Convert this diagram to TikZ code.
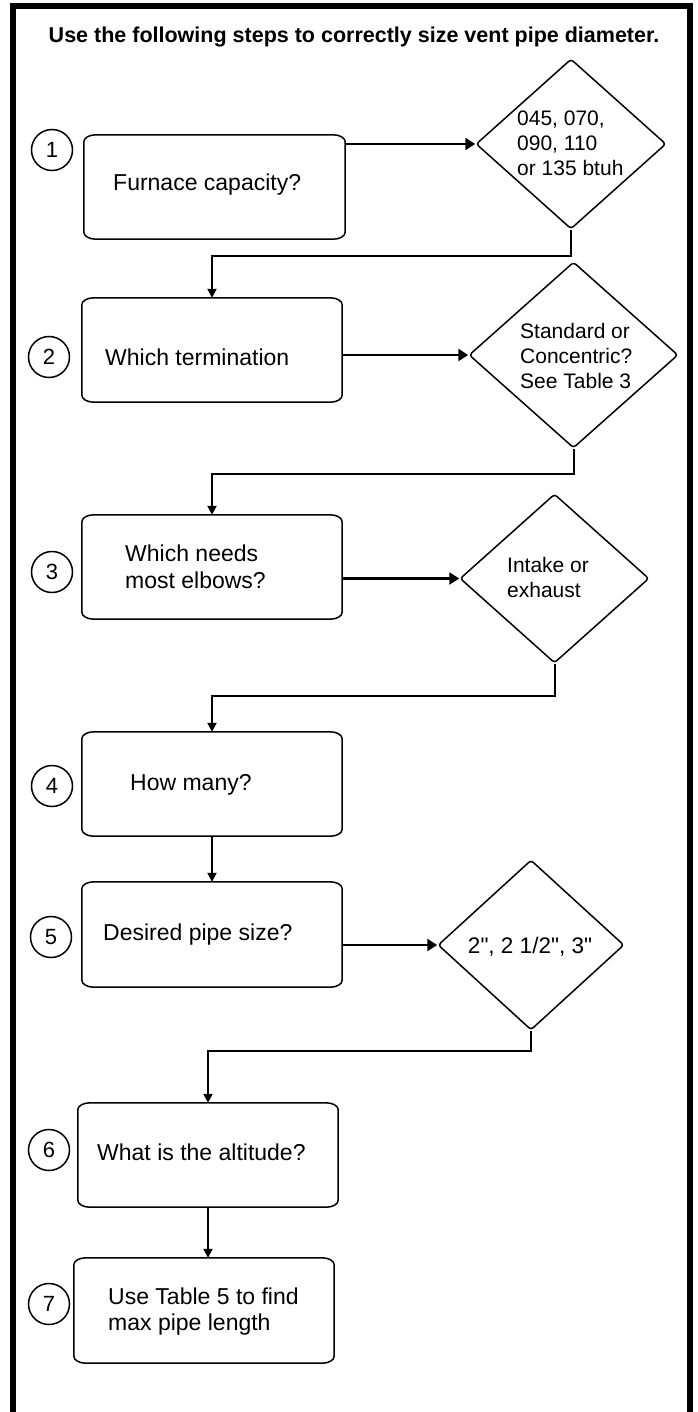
\documentclass[tikz,border=0pt]{standalone}
\usepackage{fontspec}
\setmainfont{Liberation Sans}
\newfontfamily\plainsans{Liberation Sans}
\usetikzlibrary{arrows.meta,shapes.geometric}
\begin{document}
\begin{tikzpicture}[x=1pt,y=-1pt,
  stepbox/.style={rectangle, minimum width=260pt, minimum height=104pt, inner sep=0pt},
  boxline/.style={line width=1.5pt},
  dia/.style={diamond, draw, line width=1.5pt, inner sep=0pt, rounded corners=3pt},
  num/.style={circle, draw, line width=1.5pt, minimum size=41pt, inner sep=0pt, font=\fontsize{22}{22}\selectfont},
  btext/.style={anchor=west, inner sep=0pt, align=left, font=\fontsize{23}{26.5}\selectfont},
  dtext/.style={anchor=west, inner sep=0pt, align=left, font=\fontsize{21}{25}\selectfont},
  conn/.style={line width=2pt, -{Triangle[length=9pt,width=9pt]}},
  harrow/.style={line width=2.5pt, -{Triangle[length=10pt,width=12pt]}},
  frame/.style={line width=6pt, line join=miter}
]
\useasboundingbox (0,0) rectangle (697,1412);
\fill[white] (0,0) rectangle (697,1412);
\draw[frame] (12.5,1412) -- (12.5,6) -- (690,6) -- (690,1412);

\node[font=\bfseries\fontsize{21.5}{24}\selectfont, inner sep=0pt] (title) at (354,37) {Use the following steps to correctly size vent pipe diameter.};

% step boxes
\node[stepbox, minimum width=261pt] (b1) at (214.5,187) {};
\node[stepbox] (b2) at (212,350) {};
\node[stepbox] (b3) at (212,567) {};
\node[stepbox] (b4) at (212,784) {};
\node[stepbox, minimum height=105pt] (b5) at (212,934.5) {};
\node[stepbox] (b6) at (208,1155) {};
\node[stepbox, minimum height=105pt] (b7) at (204,1310.5) {};
\foreach \i in {1,...,7}{
  \draw[boxline] ([xshift=12pt]b\i.north west) -- ([xshift=-12pt]b\i.north east)
    arc[start angle=90, end angle=0, x radius=12pt, y radius=7pt]
    -- ([yshift=7pt]b\i.south east)
    arc[start angle=0, end angle=-90, x radius=12pt, y radius=7pt]
    -- ([xshift=12pt]b\i.south west)
    arc[start angle=270, end angle=180, x radius=12pt, y radius=7pt]
    -- ([yshift=-7pt]b\i.north west)
    arc[start angle=180, end angle=90, x radius=12pt, y radius=7pt] -- cycle;
}

% box texts
\node[btext] (t1) at (113,185) {Furnace capacity?};
\node[btext] (t2) at (105,357) {Which termination};
\node[btext] (t3) at (125,567) {Which needs\\most elbows?};
\node[btext] (t4) at (130,785) {How many?};
\node[btext] (t5) at (103,935) {Desired pipe size?};
\node[btext] (t6) at (97,1152) {What is the altitude?};
\node[btext] (t7) at (108,1311.5) {Use Table 5 to find\\max pipe length};

% number circles
\node[num] (n1) at (52,150) {1};
\node[num] (n2) at (49,357) {2};
\node[num] (n3) at (52,572) {3};
\node[num] (n4) at (52,786) {4};
\node[num] (n5) at (51,937) {5};
\node[num] (n6) at (49,1150) {6};
\node[num] (n7) at (49,1304) {7};

% diamonds
\node[dia, minimum width=190pt, minimum height=170pt] (d1) at (571,144) {};
\node[dia, minimum width=209pt, minimum height=186pt] (d2) at (573.5,355) {};
\node[dia, minimum width=189pt, minimum height=169pt] (d3) at (554.5,578.5) {};
\node[dia, minimum width=186pt, minimum height=170pt] (d4) at (531,945) {};

\node[dtext] (e1) at (517,143) {045, 070,\\090, 110\\or 135 btuh};
\node[dtext] (e2) at (520,356) {Standard or\\Concentric?\\See Table 3};
\node[dtext] (e3) at (507,577.5) {Intake or\\exhaust};
\node[dtext, anchor=center, font=\plainsans\fontsize{22.5}{25}\selectfont] (e4) at (530,947) {2", 2 1/2", 3"};

% connectors
\draw[harrow] (b1.east |- d1.west) -- (d1.west);
\draw[harrow] (b2.east |- d2.west) -- (d2.west);
\draw[harrow] (b3.east |- d3.west) -- (d3.west);
\draw[harrow] (b5.east |- d4.west) -- (d4.west);

\draw[conn] (d1.south) -- ++(0,26) -| (b2.north);
\draw[conn] (d2.south) -- ++(0,25) -| (b3.north);
\draw[conn] (d3.south) -- ++(0,32) -| (b4.north);
\draw[conn] (b4.south) -- (b5.north);
\draw[conn] (d4.south) -- ++(0,20) -| (b6.north);
\draw[conn] (b6.south) -- (b6.south |- b7.north);
\end{tikzpicture}
\end{document}
